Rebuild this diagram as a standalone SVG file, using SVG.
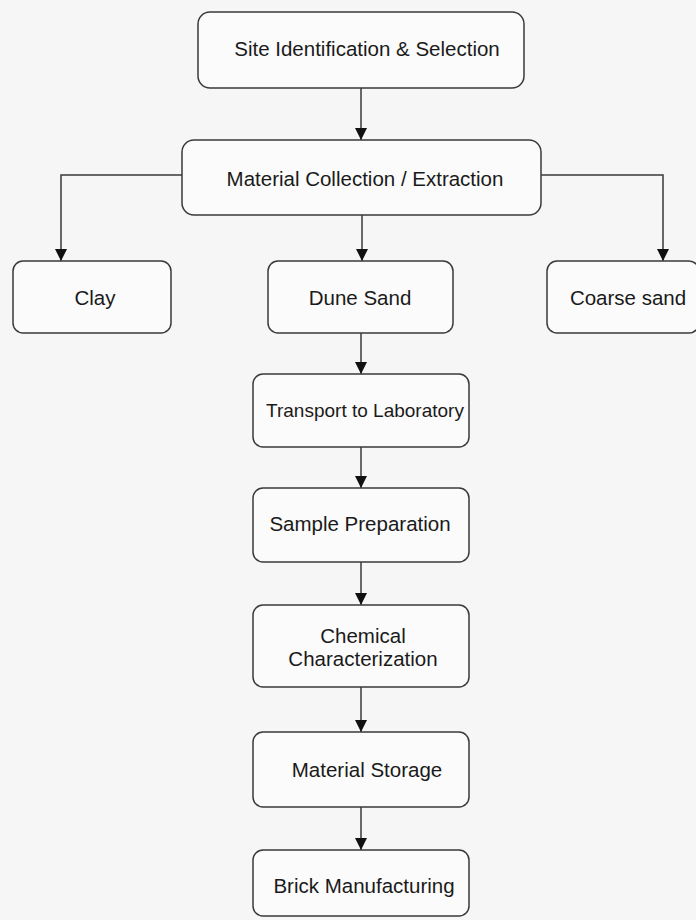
<svg xmlns="http://www.w3.org/2000/svg" width="696" height="920" viewBox="0 0 696 920">
<style>
.box{fill:#fbfbfb;stroke:#3a3a3a;stroke-width:1.5}
.lbl{font-family:"Liberation Sans",Arial,sans-serif;font-size:20.5px;fill:#1a1a1a;text-anchor:middle}
.con{fill:none;stroke:#3a3a3a;stroke-width:1.5}
</style>
<defs>
<marker id="arr" markerUnits="userSpaceOnUse" markerWidth="12" markerHeight="12" refX="12" refY="6" orient="auto">
<path d="M0,0 L12,6 L0,12 Z" fill="#111"/>
</marker>
</defs>
<rect width="696" height="920" fill="#f6f6f6"/>
<g id="connectors">
<line class="con" x1="361" y1="88" x2="361" y2="140" marker-end="url(#arr)"/>
<polyline class="con" points="182,175 61,175 61,261" marker-end="url(#arr)"/>
<polyline class="con" points="541,175 663,175 663,261" marker-end="url(#arr)"/>
<line class="con" x1="362" y1="215" x2="362" y2="261" marker-end="url(#arr)"/>
<line class="con" x1="361" y1="333" x2="361" y2="374" marker-end="url(#arr)"/>
<line class="con" x1="361" y1="447" x2="361" y2="488" marker-end="url(#arr)"/>
<line class="con" x1="361" y1="562" x2="361" y2="605" marker-end="url(#arr)"/>
<line class="con" x1="361" y1="687" x2="361" y2="732" marker-end="url(#arr)"/>
<line class="con" x1="361" y1="807" x2="361" y2="850" marker-end="url(#arr)"/>
</g>
<g id="site"><rect class="box" x="198" y="12" width="326" height="76" rx="12"/><text class="lbl" x="367" y="56">Site Identification &amp; Selection</text></g>
<g id="material"><rect class="box" x="182" y="140" width="359" height="75" rx="12"/><text class="lbl" x="365" y="186">Material Collection / Extraction</text></g>
<g id="clay"><rect class="box" x="13" y="261" width="158" height="72" rx="10"/><text class="lbl" x="95" y="305">Clay</text></g>
<g id="dune"><rect class="box" x="268" y="261" width="185" height="72" rx="10"/><text class="lbl" x="360" y="305">Dune Sand</text></g>
<g id="coarse"><rect class="box" x="547" y="261" width="152" height="72" rx="10"/><text class="lbl" x="628" y="305">Coarse sand</text></g>
<g id="transport"><rect class="box" x="253" y="374" width="216" height="73" rx="10"/><text class="lbl" x="365" y="417" style="font-size:19px">Transport to Laboratory</text></g>
<g id="sample"><rect class="box" x="253" y="488" width="216" height="74" rx="10"/><text class="lbl" x="360" y="531">Sample Preparation</text></g>
<g id="chemical"><rect class="box" x="253" y="605" width="216" height="82" rx="10"/><text class="lbl" x="363" y="643">Chemical</text><text class="lbl" x="363" y="666">Characterization</text></g>
<g id="storage"><rect class="box" x="253" y="732" width="216" height="75" rx="10"/><text class="lbl" x="367" y="777">Material Storage</text></g>
<g id="brick"><rect class="box" x="253" y="850" width="216" height="66" rx="10"/><text class="lbl" x="364" y="893">Brick Manufacturing</text></g>
</svg>
